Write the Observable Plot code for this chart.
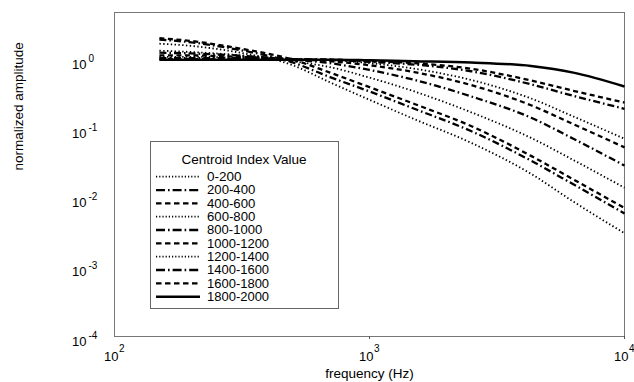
<!DOCTYPE html>
<html><head><meta charset="utf-8">
<script src="https://cdn.jsdelivr.net/npm/d3@7"></script>
<script src="https://cdn.jsdelivr.net/npm/@observablehq/plot@0.6"></script>
<style>body{margin:0;background:#fff}</style>
</head><body><div id="chart"></div>
<script>
const freqs = [150, 200, 300, 500, 700, 1000, 1500, 2500, 4300, 6300, 10000];
const seriesNames = ["0-200","200-400","400-600","600-800","800-1000","1000-1200","1200-1400","1400-1600","1600-1800","1800-2000"];
const s0 = [1.70, 1.58, 1.29, 0.83, 0.47, 0.263, 0.138, 0.063, 0.0224, 0.0089, 0.0031];
const s1 = [1.95, 1.78, 1.41, 0.91, 0.56, 0.347, 0.195, 0.093, 0.0347, 0.0158, 0.0060];
const s2 = [2.04, 1.86, 1.48, 1.00, 0.65, 0.40, 0.229, 0.110, 0.0407, 0.0186, 0.0072];
const s3 = [1.35, 1.29, 1.17, 0.95, 0.78, 0.55, 0.347, 0.174, 0.074, 0.0355, 0.0141];
const s4 = [1.26, 1.23, 1.15, 1.00, 0.89, 0.71, 0.51, 0.295, 0.145, 0.072, 0.0295];
const s5 = [1.15, 1.15, 1.10, 1.02, 0.95, 0.83, 0.66, 0.43, 0.219, 0.117, 0.054];
const s6 = [1.10, 1.10, 1.07, 1.02, 0.98, 0.89, 0.74, 0.51, 0.275, 0.151, 0.072];
const s7 = [1.05, 1.05, 1.05, 1.02, 1.00, 0.93, 0.85, 0.68, 0.44, 0.30, 0.195];
const s8 = [1.02, 1.02, 1.02, 1.00, 1.00, 0.95, 0.89, 0.74, 0.50, 0.355, 0.24];
const s9 = [1.00, 1.00, 1.00, 1.00, 1.00, 0.98, 0.95, 0.91, 0.81, 0.65, 0.41];
const seriesValues = [s0, s1, s2, s3, s4, s5, s6, s7, s8, s9];
const xTicks = [100, 1000, 10000];
const xTickExp = ["2", "3", "4"];
const yTicks = [1, 0.1, 0.01, 0.001, 0.0001];
const yTickExp = ["0", "-1", "-2", "-3", "-4"];
const legendTitle = "Centroid Index Value";

// styles per series: dotted, dash-dot, dashed repeating, last solid
const styleOf = i => i === 9 ? "solid" : ["dot", "dashdot", "dash"][i % 3];
const dashes = {dot: "1.4,2.4", dashdot: "7,3,1.6,3", dash: "5,3.5", solid: null};
const widths = {dot: 1.8, dashdot: 2.3, dash: 2.3, solid: 2.5};
const legendDashes = {dot: "1.2,2", dashdot: "9,3,1.6,3", dash: "5.5,3.5", solid: null};

const rows = seriesNames.map((name, i) => freqs.map((f, j) => ({series: name, f, a: seriesValues[i][j]})));

const font = "'Liberation Sans', Arial, Helvetica, sans-serif";
const plot = Plot.plot({
  width: 634, height: 382,
  marginLeft: 114, marginRight: 10, marginTop: 12, marginBottom: 46,
  x: {type: "log", domain: [100, 10000], axis: null},
  y: {type: "log", domain: [1e-4, 4.8], axis: null},
  style: {fontFamily: font, fontSize: "13px", background: "white", color: "black"},
  marks: [
    Plot.frame({stroke: "#777", strokeWidth: 1}),
    Plot.axisX({ticks: xTicks.slice(1), tickSize: 3, tickFormat: () => "", label: null, stroke: "#555"}),
    ...rows.map((data, i) => {
      const st = styleOf(i);
      return Plot.line(data, {x: "f", y: "a", stroke: "black", strokeWidth: widths[st],
        strokeDasharray: dashes[st], curve: "monotone-x", strokeLinecap: "butt"});
    }),
    Plot.text(xTicks, {x: d => d, frameAnchor: "bottom", dy: 24, dx: 4, textAnchor: "end", text: () => "10", fontSize: 13}),
    Plot.text(xTicks, {x: d => d, frameAnchor: "bottom", dy: 15, dx: 4.5, textAnchor: "start", text: (d, i) => xTickExp[i], fontSize: 10}),
    Plot.text(yTicks, {y: d => d, frameAnchor: "left", dx: -28, dy: 5, textAnchor: "end", text: () => "10", fontSize: 13}),
    Plot.text(yTicks, {y: d => d, frameAnchor: "left", dx: -26, dy: -1, textAnchor: "start", text: (d, i) => yTickExp[i], fontSize: 10}),
    Plot.text(["frequency (Hz)"], {x: 1000, frameAnchor: "bottom", dy: 41, text: d => d, fontSize: 13.5}),
    Plot.text(["normalized amplitude"], {frameAnchor: "left", dx: -96, dy: -4, rotate: -90, text: d => d, fontSize: 13.5})
  ]
});
document.getElementById("chart").appendChild(plot);

// legend box
const svg = d3.select(plot);
const lg = svg.append("g").attr("font-family", font).attr("font-size", 12).attr("text-anchor", "start");
const bx = 150, by = 141, bw = 188, bh = 167;
lg.append("rect").attr("x", bx + 0.5).attr("y", by + 0.5).attr("width", bw).attr("height", bh)
  .attr("fill", "white").attr("stroke", "#666").attr("stroke-width", 1);
lg.append("text").attr("x", 244).attr("y", 164).attr("text-anchor", "middle").attr("font-size", 13.5).text(legendTitle);
seriesNames.forEach((name, i) => {
  const st = styleOf(i);
  const yy = 176.7 + i * 13.33;
  lg.append("line").attr("x1", 156).attr("x2", 200).attr("y1", yy).attr("y2", yy)
    .attr("stroke", "black").attr("stroke-width", widths[st])
    .attr("stroke-dasharray", legendDashes[st]);
  lg.append("text").attr("x", 207).attr("y", yy).attr("dy", "0.36em").attr("text-anchor", "start")
    .attr("textLength", name.length * 6.9).attr("lengthAdjust", "spacingAndGlyphs").text(name);
});
</script>
</body></html>
